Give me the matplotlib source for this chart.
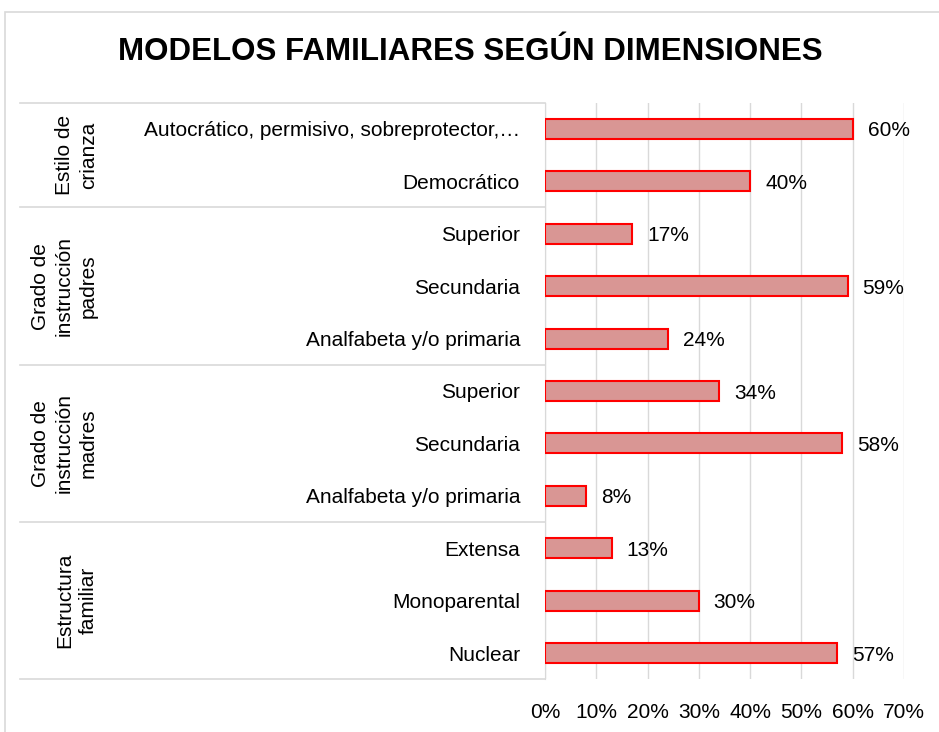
import matplotlib
matplotlib.use('Agg')
import matplotlib.pyplot as plt
from matplotlib.lines import Line2D
from matplotlib.patches import Rectangle
from matplotlib.transforms import blended_transform_factory

# categories from top to bottom
categories = ['Autocrático, permisivo, sobreprotector,…', 'Democrático',
              'Superior', 'Secundaria', 'Analfabeta y/o primaria',
              'Superior', 'Secundaria', 'Analfabeta y/o primaria',
              'Extensa', 'Monoparental', 'Nuclear']
values = [60, 40, 17, 59, 24, 34, 58, 8, 13, 30, 57]
groups = ['Estilo de\ncrianza', 'Grado de\ninstrucción\npadres',
          'Grado de\ninstrucción\nmadres', 'Estructura\nfamiliar']
group_sizes = [2, 3, 3, 3]
xticks = [0, 10, 20, 30, 40, 50, 60, 70]

plt.rcParams['font.family'] = ['Liberation Sans', 'DejaVu Sans']

W, H = 939, 732
fig = plt.figure(figsize=(W / 100, H / 100), dpi=100)
ax = fig.add_axes([545 / W, (H - 679.4) / H, 359 / W, 576.8 / H])

n = len(categories)
ypos = list(range(n - 1, -1, -1))
ax.barh(ypos, values, height=0.38, color='#D99694', edgecolor='#FF0000', linewidth=1.5, zorder=3)
for y, v in zip(ypos, values):
    ax.text(v + 2.9, y - 0.04, '%d%%' % v, va='center', ha='left', fontsize=15, color='#000000')

ax.set_xlim(0, 70)
ax.set_ylim(-0.5, n - 0.5)
ax.set_xticks(xticks)
ax.set_xticklabels(['%d%%' % t for t in xticks], fontsize=15)
ax.set_yticks(ypos)
ax.set_yticklabels(categories, fontsize=15)
ax.tick_params(axis='both', length=0)
ax.tick_params(axis='x', pad=17)
ax.tick_params(axis='y', pad=18)
ax.grid(axis='x', color='#D9D9D9', linewidth=1, zorder=0)
for s in ['top', 'right', 'bottom']:
    ax.spines[s].set_visible(False)
ax.spines['left'].set_color('#D9D9D9')

# group separators and labels
tr = blended_transform_factory(fig.transFigure, ax.transData)
edge = n - 0.5
for name, size in zip(groups, group_sizes):
    fig.add_artist(Line2D([20 / W, 545 / W], [edge, edge], transform=tr, color='#D9D9D9', lw=1.2))
    mid = edge - size / 2
    fig.text(98 / W, mid, name, transform=tr, rotation=90, ha='right', va='center',
             multialignment='center', fontsize=15, linespacing=1.35)
    edge -= size
fig.add_artist(Line2D([20 / W, 545 / W], [edge, edge], transform=tr, color='#D9D9D9', lw=1.2))

# outer chart border
fig.add_artist(Rectangle((5 / W, -0.1), 1.2, (H - 12) / H + 0.1, transform=fig.transFigure,
                         fill=False, edgecolor='#D9D9D9', lw=1.2))

fig.text(470 / W, 1 - 52 / H, 'MODELOS FAMILIARES SEGÚN DIMENSIONES', ha='center', va='center',
         fontsize=22.5, fontweight='bold')

fig.savefig('out.png', dpi=100)
